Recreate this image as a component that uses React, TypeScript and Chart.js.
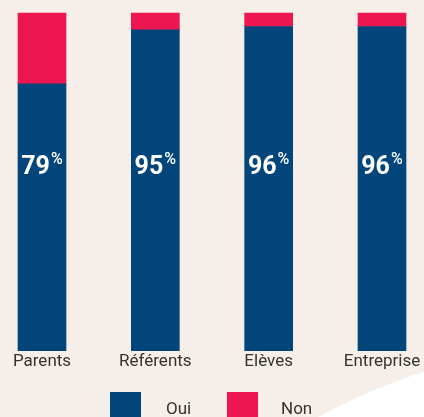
import React, { useEffect, useRef } from "react";
import { Chart, registerables } from "chart.js";

Chart.register(...registerables);

const categories = ["Parents", "Référents", "Elèves", "Entreprise"];
const ouiValues = [79, 95, 96, 96];
const nonValues = [21, 5, 4, 4];
const pctLabels = ["79", "95", "96", "96"];
const seriesNames = ["Oui", "Non"];

const NAVY = "#01457A";
const RED = "#EE1651";
const BEIGE = "#F6EEE8";
const TEXT = "#333333";
const FONT = "Roboto, 'Liberation Sans', sans-serif";

const pctPlugin = {
  id: "pctLabels",
  afterDatasetsDraw(chart: any) {
    const meta = chart.getDatasetMeta(0);
    const ctx = chart.ctx;
    const area = chart.chartArea;
    const baseY = area.top + (area.bottom - area.top) * 0.477;
    ctx.save();
    ctx.fillStyle = "#ffffff";
    ctx.textBaseline = "alphabetic";
    ctx.textAlign = "left";
    meta.data.forEach((bar: any, i: number) => {
      const big = pctLabels[i];
      ctx.font = `bold 25px ${FONT}`;
      const wBig = ctx.measureText(big).width;
      ctx.font = `500 16px ${FONT}`;
      const wPct = ctx.measureText("%").width;
      const start = bar.x - (wBig + wPct + 1) / 2;
      ctx.font = `bold 25px ${FONT}`;
      ctx.fillText(big, start, baseY);
      ctx.font = `500 16px ${FONT}`;
      ctx.fillText("%", start + wBig + 1, baseY - 10);
    });
    ctx.restore();
  },
};

export default function App() {
  const ref = useRef<HTMLCanvasElement | null>(null);

  useEffect(() => {
    if (!ref.current) return;
    const chart = new Chart(ref.current, {
      type: "bar",
      data: {
        labels: categories,
        datasets: [
          {
            label: seriesNames[0],
            data: ouiValues,
            backgroundColor: NAVY,
            borderWidth: 0,
            barThickness: 48,
            clip: false,
          },
          {
            label: seriesNames[1],
            data: nonValues,
            backgroundColor: RED,
            borderWidth: 0,
            barThickness: 48,
            clip: false,
          },
        ],
      },
      options: {
        responsive: false,
        animation: false,
        layout: { padding: { left: 42, right: 42, top: 13, bottom: 44 } },
        plugins: {
          legend: { display: false },
          tooltip: { enabled: false },
        },
        scales: {
          x: {
            stacked: true,
            offset: false,
            grid: { display: false, drawTicks: false },
            border: { display: false },
            ticks: {
              color: TEXT,
              padding: 1,
              font: { family: FONT, size: 17 },
              maxRotation: 0,
              autoSkip: false,
            },
          },
          y: {
            stacked: true,
            display: false,
            min: 0,
            max: 100,
          },
        },
      },
      plugins: [pctPlugin],
    });
    return () => chart.destroy();
  }, []);

  const legendText: React.CSSProperties = {
    position: "absolute",
    top: 400,
    fontFamily: FONT,
    fontSize: 17,
    lineHeight: "17px",
    color: TEXT,
    whiteSpace: "nowrap",
  };
  const box: React.CSSProperties = {
    position: "absolute",
    top: 392,
    width: 31,
    height: 31,
  };

  return (
    <div
      style={{
        position: "fixed",
        left: 0,
        top: 0,
        width: 424,
        height: 417,
        overflow: "hidden",
        background: `radial-gradient(circle 600px at 606px 943px, #ffffff 599px, ${BEIGE} 600px)`,
      }}
    >
      <canvas
        ref={ref}
        width={424}
        height={417}
        style={{ position: "absolute", left: 0, top: 0, width: 424, height: 417 }}
      />
      <div style={{ ...box, left: 110, background: NAVY }} />
      <span style={{ ...legendText, left: 166 }}>{seriesNames[0]}</span>
      <div style={{ ...box, left: 227, background: RED }} />
      <span style={{ ...legendText, left: 281 }}>{seriesNames[1]}</span>
    </div>
  );
}
